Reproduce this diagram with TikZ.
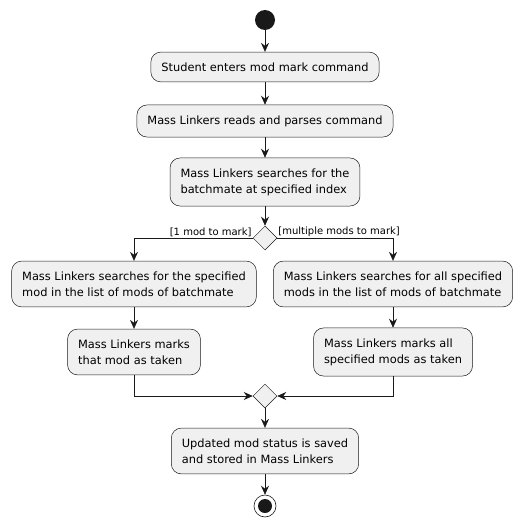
\documentclass[tikz,border=0pt]{standalone}
\usepackage{fontspec}
\setmainfont{DejaVu Sans}
\usetikzlibrary{arrows.meta}
\usetikzlibrary{shapes.geometric}

\begin{document}
\begin{tikzpicture}[x=1pt,y=-1pt,
  act/.style={draw=black!90,line width=0.5pt,fill=black!6,rounded corners=10pt,
    align=left,inner xsep=10.5pt,inner ysep=10.5pt,font=\fontsize{11.4}{16}\selectfont},
  branch/.style={draw=black!90,line width=0.5pt,fill=black!6,diamond,
    minimum width=24pt,minimum height=24pt,inner sep=0pt},
  guard/.style={font=\fontsize{10}{11}\selectfont,inner sep=1pt},
  flow/.style={-{Stealth[length=9pt,width=8pt,inset=3pt]},line width=0.6pt,draw=black!90}]
\useasboundingbox (0,0) rectangle (530,527);
\node[circle,fill=black!90,minimum size=20pt,inner sep=0pt] (start) at (265,20) {};
\node[act] (enter) at (265,67) {Student enters mod mark command};
\node[act] (parse) at (265,121) {Mass Linkers reads and parses command};
\node[act] (find) at (265,182) {Mass Linkers searches for the\\batchmate at specified index};
\node[branch] (split) at (265,238) {};
\node[act] (searchone) at (134,284) {Mass Linkers searches for the specified\\mod in the list of mods of batchmate};
\node[act] (searchall) at (393,284) {Mass Linkers searches for all specified\\mods in the list of mods of batchmate};
\node[act] (markone) at (134,352) {Mass Linkers marks\\that mod as taken};
\node[act] (markall) at (393,352) {Mass Linkers marks all\\specified mods as taken};
\node[branch] (merge) at (265,396) {};
\node[act] (save) at (265,451) {Updated mod status is saved\\and stored in Mass Linkers};
\node[circle,draw=black!90,line width=0.6pt,fill=white,minimum size=22pt,inner sep=0pt] (stop) at (265,506) {};
\fill[black!90] (stop) circle (7pt);
% guards
\node[guard,anchor=south east] at (split.west) {[1 mod to mark]};
\node[guard,anchor=south west] at (split.east) {[multiple mods to mark]};
% flow
\draw[flow] (start) -- (enter);
\draw[flow] (enter) -- (parse);
\draw[flow] (parse) -- (find);
\draw[flow] (find) -- (split);
\draw[flow] (split.west) -| (searchone.north);
\draw[flow] (split.east) -| (searchall.north);
\draw[flow] (searchone) -- (markone);
\draw[flow] (searchall) -- (markall);
\draw[flow] (markone.south) |- (merge.west);
\draw[flow] (markall.south) |- (merge.east);
\draw[flow] (merge) -- (save);
\draw[flow] (save) -- (stop);
\end{tikzpicture}
\end{document}
